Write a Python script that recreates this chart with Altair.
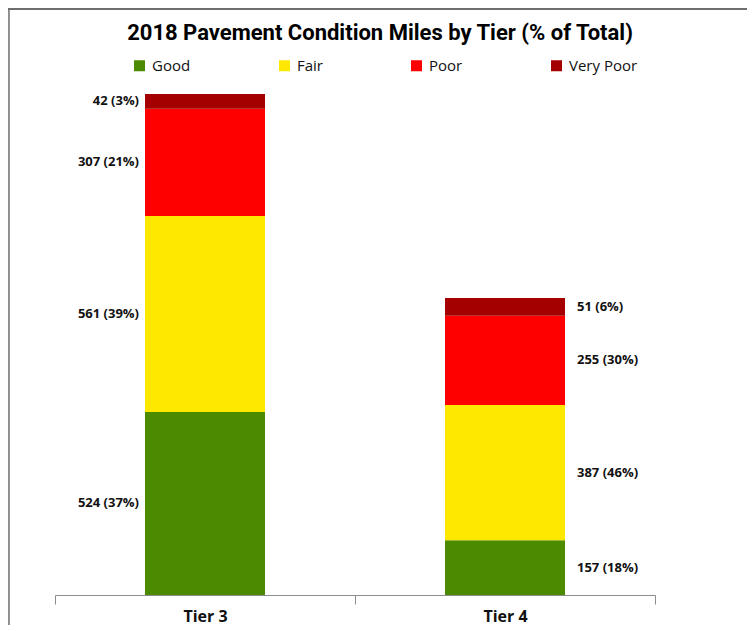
import altair as alt
import pandas as pd

tiers = ["Tier 3", "Tier 4"]
conditions = ["Good", "Fair", "Poor", "Very Poor"]
tier3_miles = [524, 561, 307, 42]
tier3_pct = [37, 39, 21, 3]
tier4_miles = [157, 387, 255, 51]
tier4_pct = [18, 46, 30, 6]
colors = ["#4C8A00", "#FFE800", "#FF0000", "#A50000"]

rows = []
for tier, miles, pcts in [(tiers[0], tier3_miles, tier3_pct), (tiers[1], tier4_miles, tier4_pct)]:
    for i, (c, m, p) in enumerate(zip(conditions, miles, pcts)):
        rows.append({"tier": tier, "condition": c, "miles": m, "pct": p, "order": i,
                     "label": f"{m} ({p}%)"})
df = pd.DataFrame(rows)

base = alt.Chart(df).transform_stack(
    stack="miles", as_=["y0", "y1"], groupby=["tier"], sort=[alt.SortField("order")]
).transform_calculate(mid="(datum.y0 + datum.y1) / 2")

xscale = alt.Scale(domain=tiers, paddingInner=0, paddingOuter=0)
xenc = alt.X("tier:N", sort=tiers, title=None, scale=xscale,
             axis=alt.Axis(labelAngle=0, tickBand="extent", domainColor="#8c8c8c",
                           tickColor="#8c8c8c", tickSize=9, labelFontSize=16,
                           labelFont="Open Sans", labelFontWeight="bold",
                           labelColor="#111111", labelPadding=4, grid=False))
yscale = alt.Scale(domain=[0, 1434], nice=False, zero=True)

bars = base.mark_bar(size=120).encode(
    x=xenc,
    y=alt.Y("y0:Q", scale=yscale, axis=None),
    y2="y1:Q",
    color=alt.Color("condition:N", sort=conditions,
                    scale=alt.Scale(domain=conditions, range=colors),
                    legend=alt.Legend(title=None, orient="none", direction="horizontal",
                                      legendX=77, legendY=-36, columnPadding=86,
                                      symbolType="square", symbolSize=121,
                                      symbolStrokeWidth=0, labelFontSize=15,
                                      labelFont="Open Sans", labelColor="#111111",
                                      labelOffset=5)),
    order=alt.Order("order:Q"),
)

text_left = base.transform_filter(alt.datum.tier == tiers[0]).mark_text(
    align="right", baseline="middle", dx=-66, fontSize=13, font="Open Sans",
    fontWeight="bold", color="#111111"
).encode(x=alt.X("tier:N", sort=tiers, scale=xscale), y=alt.Y("mid:Q", scale=yscale),
         text="label:N")

text_right = base.transform_filter(alt.datum.tier == tiers[1]).mark_text(
    align="left", baseline="middle", dx=72, fontSize=13, font="Open Sans",
    fontWeight="bold", color="#111111"
).encode(x=alt.X("tier:N", sort=tiers, scale=xscale), y=alt.Y("mid:Q", scale=yscale),
         text="label:N")

frame_left = alt.Chart(df).mark_rule(color="#8c8c8c", strokeWidth=1.5).encode(
    x=alt.value(-46.5), y=alt.value(-85.5), y2=alt.value(600))
frame_top = alt.Chart(df).mark_rule(color="#6e6e6e", strokeWidth=2).encode(
    x=alt.value(-46.5), x2=alt.value(800), y=alt.value(-85.5))

chart = alt.layer(bars, text_left, text_right, frame_left, frame_top).properties(
    width=600, height=501,
    title=alt.TitleParams("2018 Pavement Condition Miles by Tier (% of Total)",
                          font="Roboto", fontSize=22, fontWeight="bold",
                          color="#000000", anchor="middle", dx=25, dy=49, offset=12),
    autosize=alt.AutoSizeParams(type="none"),
    padding={"left": 47, "top": 86, "right": 92, "bottom": 30},
).configure_view(stroke=None)

chart.save("out.html", embed_options={"renderer": "svg", "actions": False})
